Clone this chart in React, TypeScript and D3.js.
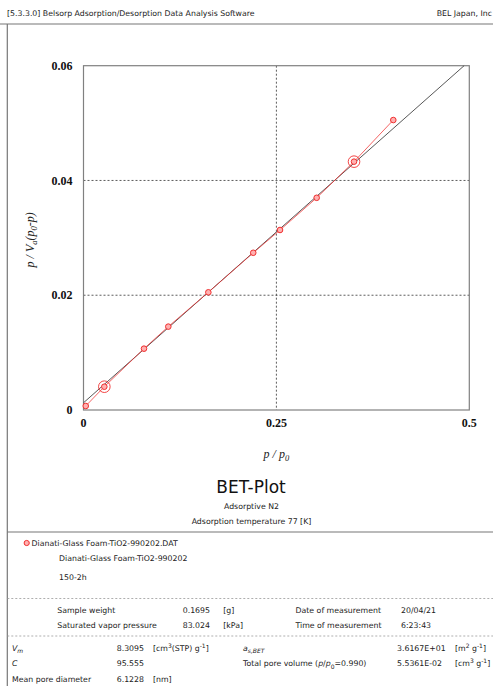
import * as d3 from 'd3';

// BET plot data
const relPressure = [0.0029, 0.027, 0.0784, 0.1099, 0.1618, 0.22, 0.2547, 0.3022, 0.3506, 0.4015];
const betValue = [0.0007, 0.00406, 0.01069, 0.01453, 0.02051, 0.0274, 0.03137, 0.03698, 0.04328, 0.05053];
const fitRange = [1, 8];
const xTicks = [0, 0.25, 0.5];
const yTicks = [0, 0.02, 0.04, 0.06];
const xGrid = [0.25];
const yGrid = [0.02, 0.04];

// BET parameters
const Vm = 8.3095;
const C = 95.555;

const sampleRows = [
  ['Sample weight', '0.1695', '[g]', 'Date of measurement', '20/04/21'],
  ['Saturated vapor pressure', '83.024', '[kPa]', 'Time of measurement', '6:23:43'],
];

const W = 493;
const H = 686;
const SANS = '"DejaVu Sans", Verdana, sans-serif';
const SERIF = '"Liberation Serif", "Times New Roman", serif';
const RED = '#f03030';

const plot = { left: 83.5, right: 469.3, top: 65.7, bottom: 410 };

export default function App() {
  const x = d3.scaleLinear().domain([0, 0.5]).range([plot.left, plot.right]);
  const y = d3.scaleLinear().domain([0, 0.06]).range([plot.bottom, plot.top]);

  const pts = relPressure.map((p, i) => ({ p, v: betValue[i] }));
  const dataLine = d3.line<{ p: number; v: number }>()
    .x(d => x(d.p))
    .y(d => y(d.v));

  // fitted line from Vm and C
  const intercept = 1 / (Vm * C);
  const slope = (C - 1) / (Vm * C);
  const xEnd = (0.06 - intercept) / slope;
  const fitPts = [
    { p: 0, v: intercept },
    { p: xEnd, v: 0.06 },
  ];

  const txt = { fontFamily: SANS, fontSize: 7.8, fill: '#222' } as const;

  return (
    <svg width={W} height={H} style={{ position: 'absolute', left: 0, top: 0, background: '#fff' }}>
      {/* header */}
      <text x={7} y={16} {...txt}>[5.3.3.0] Belsorp Adsorption/Desorption Data Analysis Software</text>
      <text x={492} y={16} textAnchor="end" {...txt}>BEL Japan, Inc</text>
      <line x1={0} x2={W} y1={24} y2={24} stroke="#777" strokeWidth={1.2} />
      <line x1={7.3} x2={7.3} y1={24} y2={H} stroke="#777" strokeWidth={1.2} />

      {/* grid */}
      {xGrid.map(g => (
        <line key={`xg${g}`} x1={x(g)} x2={x(g)} y1={plot.top} y2={plot.bottom}
          stroke="#333" strokeWidth={0.8} strokeDasharray="2,2" />
      ))}
      {yGrid.map(g => (
        <line key={`yg${g}`} x1={plot.left} x2={plot.right} y1={y(g)} y2={y(g)}
          stroke="#333" strokeWidth={0.8} strokeDasharray="2,2" />
      ))}

      {/* frame */}
      <rect x={plot.left} y={plot.top} width={plot.right - plot.left} height={plot.bottom - plot.top}
        fill="none" stroke="#808080" strokeWidth={1.2} />

      {/* tick labels */}
      {yTicks.map(t => (
        <text key={`yt${t}`} x={plot.left - 11} y={y(t)} dy="0.35em" textAnchor="end"
          fontFamily={SERIF} fontSize={12} fontWeight="bold" fill="#111">{t === 0 ? '0' : t.toFixed(2)}</text>
      ))}
      {xTicks.map(t => (
        <text key={`xt${t}`} x={x(t)} y={427} textAnchor="middle"
          fontFamily={SERIF} fontSize={12} fontWeight="bold" fill="#111">{String(t)}</text>
      ))}

      {/* axis titles */}
      <text x={x(0.25)} y={458} textAnchor="middle" fontFamily={SERIF} fontSize={12} fontStyle="italic" fill="#222">
        p / p<tspan dy={3} fontSize={8.5}>0</tspan>
      </text>
      <text transform={`translate(34,${(plot.top + plot.bottom) / 2 + 2}) rotate(-90)`} textAnchor="middle"
        fontFamily={SERIF} fontSize={12} fontStyle="italic" fill="#222">
        p / V<tspan dy={3} fontSize={8.5}>a</tspan><tspan dy={-3}>(p</tspan><tspan dy={3} fontSize={8.5}>0</tspan><tspan dy={-3}>-p)</tspan>
      </text>

      {/* fitted line */}
      <path d={dataLine(fitPts) ?? ''} fill="none" stroke="#444" strokeWidth={0.9} />

      {/* data */}
      <path d={dataLine(pts) ?? ''} fill="none" stroke={RED} strokeOpacity={0.75} strokeWidth={1} />
      {pts.map((d, i) => (
        <g key={i}>
          <circle cx={x(d.p)} cy={y(d.v)} r={2.8} fill="#ffb0b0" stroke={RED} strokeWidth={1} />
          {fitRange.includes(i) && (
            <circle cx={x(d.p)} cy={y(d.v)} r={5.8} fill="none" stroke={RED} strokeWidth={0.9} />
          )}
        </g>
      ))}

      {/* title block */}
      <text x={251} y={492.5} textAnchor="middle" fontFamily={SANS} fontSize={17} fill="#111">BET-Plot</text>
      <text x={251.5} y={509} textAnchor="middle" {...txt}>Adsorptive N2</text>
      <text x={251.5} y={524} textAnchor="middle" {...txt}>Adsorption temperature 77 [K]</text>
      <line x1={7.3} x2={W} y1={532} y2={532} stroke="#777" strokeWidth={1.2} />

      {/* legend / sample */}
      <circle cx={26.7} cy={543} r={2.6} fill="#ffb0b0" stroke={RED} strokeWidth={1} />
      <text x={31.5} y={546} {...txt}>Dianati-Glass Foam-TiO2-990202.DAT</text>
      <text x={59} y={561} {...txt}>Dianati-Glass Foam-TiO2-990202</text>
      <text x={59} y={580} {...txt}>150-2h</text>
      <line x1={7.3} x2={W} y1={598.5} y2={598.5} stroke="#999" strokeWidth={0.8} strokeDasharray="2,2" />

      {sampleRows.map((r, i) => (
        <g key={r[0]} {...txt}>
          <text x={57.3} y={612.8 + i * 15}>{r[0]}</text>
          <text x={182.7} y={612.8 + i * 15}>{r[1]}</text>
          <text x={223.3} y={612.8 + i * 15}>{r[2]}</text>
          <text x={295.5} y={612.8 + i * 15}>{r[3]}</text>
          <text x={401} y={612.8 + i * 15}>{r[4]}</text>
        </g>
      ))}
      <line x1={7.3} x2={W} y1={636} y2={636} stroke="#999" strokeWidth={0.8} strokeDasharray="2,2" />

      {/* results */}
      <g {...txt}>
        <text x={12} y={650.5} fontStyle="italic">V<tspan dy={2.5} fontSize={6}>m</tspan></text>
        <text x={116.7} y={650.5}>{Vm.toFixed(4)}</text>
        <text x={153} y={650.5}>[cm<tspan dy={-3} fontSize={6}>3</tspan><tspan dy={3}>(STP) g</tspan><tspan dy={-3} fontSize={6}>-1</tspan><tspan dy={3}>]</tspan></text>
        <text x={243} y={650.5} fontStyle="italic">a<tspan dy={2.5} fontSize={6}>s,BET</tspan></text>
        <text x={397} y={650.5}>3.6167E+01</text>
        <text x={455} y={650.5}>[m<tspan dy={-3} fontSize={6}>2</tspan><tspan dy={3}> g</tspan><tspan dy={-3} fontSize={6}>-1</tspan><tspan dy={3}>]</tspan></text>

        <text x={12} y={666} fontStyle="italic">C</text>
        <text x={116.7} y={666}>{C.toFixed(3)}</text>
        <text x={243} y={666}>Total pore volume (<tspan fontStyle="italic">p</tspan>/<tspan fontStyle="italic">p</tspan><tspan dy={2.5} fontSize={6}>0</tspan><tspan dy={-2.5}>=0.990)</tspan></text>
        <text x={397} y={666}>5.5361E-02</text>
        <text x={455} y={666}>[cm<tspan dy={-3} fontSize={6}>3</tspan><tspan dy={3}> g</tspan><tspan dy={-3} fontSize={6}>-1</tspan><tspan dy={3}>]</tspan></text>

        <text x={12} y={681.7}>Mean pore diameter</text>
        <text x={116.7} y={681.7}>6.1228</text>
        <text x={153} y={681.7}>[nm]</text>
      </g>
    </svg>
  );
}
